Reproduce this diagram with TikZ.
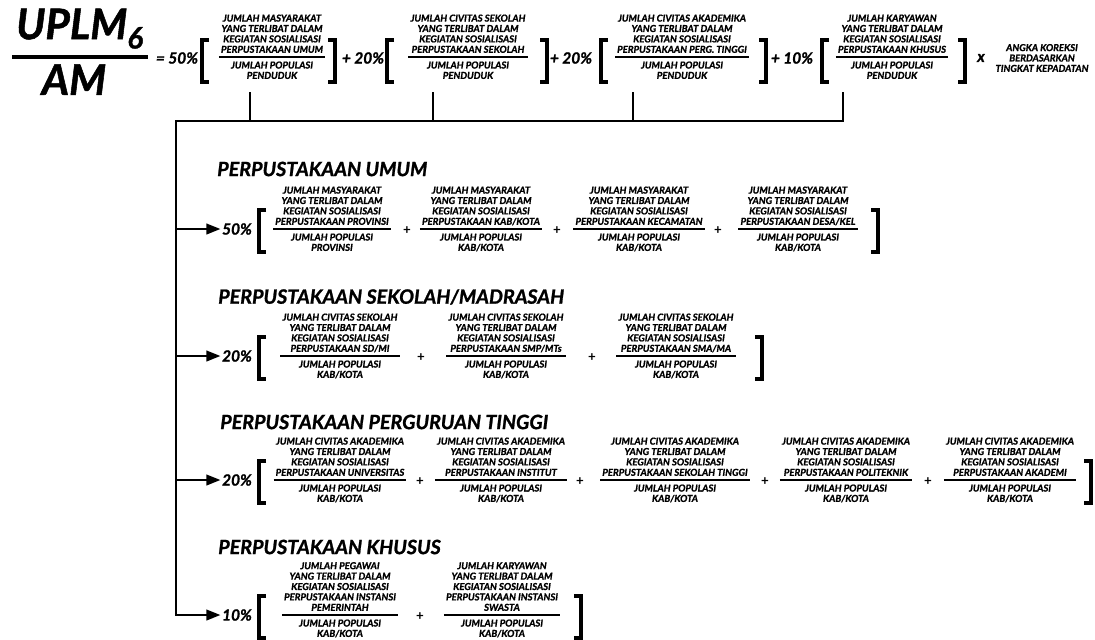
\documentclass[tikz,border=0pt]{standalone}
\usepackage{fontspec}
\setmainfont{Lato}[BoldItalicFeatures={FakeBold=1.2}]
\usetikzlibrary{arrows.meta,positioning}
\newcommand{\ikut}[2]{#1\\YANG TERLIBAT DALAM\\KEGIATAN SOSIALISASI\\#2}
\newcommand{\pop}[1]{JUMLAH POPULASI\\#1}
\newcommand{\pecahan}[5]{%
  \node[num] (#1) at (#2,#3) {#4};
  \node[den,below=0pt of #1] (#1d) {#5};
  \draw[bar] (#1.south west) -- (#1.south east);}
\newcommand{\kurungL}[3]{\draw[brk] (#1+7,#2) -- (#1,#2) -- (#1,#3) -- (#1+7,#3);}
\newcommand{\kurungR}[3]{\draw[brk] (#1-7,#2) -- (#1,#2) -- (#1,#3) -- (#1-7,#3);}
\tikzset{
  small/.style={font=\fontsize{6.8}{7.4}\selectfont\bfseries\itshape},
  num/.style={small,anchor=south,align=center,text depth=0.8pt,inner xsep=1.5pt,inner ysep=2.2pt,outer sep=0pt},
  den/.style={small,align=center,inner xsep=1.5pt,inner ysep=3.2pt,outer sep=0pt},
  bar/.style={line width=0.8pt},
  brk/.style={line width=2.2pt},
  pct/.style={font=\fontsize{11}{11}\selectfont\bfseries\itshape,inner sep=1pt},
  plus/.style={font=\fontsize{9.5}{9.5}\selectfont\bfseries,inner sep=0pt},
  head/.style={anchor=west,inner sep=0pt,font=\fontsize{14}{14}\selectfont\bfseries\itshape},
  big/.style={inner sep=0pt,font=\fontsize{30}{30}\selectfont\bfseries\itshape},
  link/.style={line width=1.6pt}
}
\begin{document}
\begin{tikzpicture}[x=0.025cm,y=0.025cm,>={Triangle[length=10pt,width=7.5pt]}]
\useasboundingbox (0,0) rectangle (1095,-639);
\node[big,anchor=south] (uplm) at (80,-49) {UPLM\textsubscript{6}};
\node[big,anchor=north] (am) at (74,-64) {AM};
\draw[line width=2.5pt] (12,-57) -- (148,-57);
\node[pct] (e0) at (177,-58) {= 50\%};
\node[pct] (e1) at (363,-58) {+ 20\%};
\node[pct] (e2) at (571,-58) {+ 20\%};
\node[pct] (e3) at (792,-58) {+ 10\%};
\node[pct] (ex) at (981,-58) {x};
\node[small,align=center] (koreksi) at (1042,-58) {ANGKA KOREKSI\\BERDASARKAN\\TINGKAT KEPADATAN};
\pecahan{f1}{272}{-57}{\ikut{JUMLAH MASYARAKAT}{PERPUSTAKAAN UMUM}}{\pop{PENDUDUK}}
\pecahan{f2}{468}{-57}{\ikut{JUMLAH CIVITAS SEKOLAH}{PERPUSTAKAAN SEKOLAH}}{\pop{PENDUDUK}}
\pecahan{f3}{682}{-57}{\ikut{JUMLAH CIVITAS AKADEMIKA}{PERPUSTAKAAN PERG. TINGGI}}{\pop{PENDUDUK}}
\pecahan{f4}{892}{-57}{\ikut{JUMLAH KARYAWAN}{PERPUSTAKAAN KHUSUS}}{\pop{PENDUDUK}}
\kurungL{202}{-40}{-82} \kurungR{335}{-40}{-82}
\kurungL{387}{-40}{-82} \kurungR{547}{-40}{-82}
\kurungL{601}{-40}{-82} \kurungR{766}{-40}{-82}
\kurungL{822}{-40}{-82} \kurungR{965}{-40}{-82}
\coordinate (bus) at (176,-121);
\coordinate (t1) at (250,-92);
\coordinate (t2) at (433,-92);
\coordinate (t3) at (633,-92);
\coordinate (t4) at (843,-92);

\node[head] (h1) at (217,-169) {PERPUSTAKAAN UMUM};
\node[pct] (p1) at (237,-229) {50\%};
\kurungL{259}{-210}{-252} \kurungR{878}{-210}{-252}
\pecahan{a1}{332}{-229}{\ikut{JUMLAH MASYARAKAT}{PERPUSTAKAAN PROVINSI}}{\pop{PROVINSI}}
\pecahan{a2}{481}{-229}{\ikut{JUMLAH MASYARAKAT}{PERPUSTAKAAN KAB/KOTA}}{\pop{KAB/KOTA}}
\pecahan{a3}{639}{-229}{\ikut{JUMLAH MASYARAKAT}{PERPUSTAKAAN KECAMATAN}}{\pop{KAB/KOTA}}
\pecahan{a4}{798}{-229}{\ikut{JUMLAH MASYARAKAT}{PERPUSTAKAAN DESA/KEL}}{\pop{KAB/KOTA}}
\foreach \x in {407,557,718}
    \node[plus] at (\x,-231) {+};

\node[head] (h2) at (218,-297) {PERPUSTAKAAN SEKOLAH/MADRASAH};
\node[pct] (p2) at (237,-356) {20\%};
\kurungL{259}{-337}{-379} \kurungR{762}{-337}{-379}
\pecahan{b1}{340}{-356}{\ikut{JUMLAH CIVITAS SEKOLAH}{PERPUSTAKAAN SD/MI}}{\pop{KAB/KOTA}}
\pecahan{b2}{506}{-356}{\ikut{JUMLAH CIVITAS SEKOLAH}{PERPUSTAKAAN SMP/MTs}}{\pop{KAB/KOTA}}
\pecahan{b3}{676}{-356}{\ikut{JUMLAH CIVITAS SEKOLAH}{PERPUSTAKAAN SMA/MA}}{\pop{KAB/KOTA}}
\foreach \x in {421,592}
    \node[plus] at (\x,-358) {+};

\node[head] (h3) at (220,-422) {PERPUSTAKAAN PERGURUAN TINGGI};
\node[pct] (p3) at (237,-480) {20\%};
\kurungL{259}{-461}{-503} \kurungR{1091}{-461}{-503}
\pecahan{c1}{340}{-480}{\ikut{JUMLAH CIVITAS AKADEMIKA}{PERPUSTAKAAN UNIVERSITAS}}{\pop{KAB/KOTA}}
\pecahan{c2}{501}{-480}{\ikut{JUMLAH CIVITAS AKADEMIKA}{PERPUSTAKAAN INSTITUT}}{\pop{KAB/KOTA}}
\pecahan{c3}{675}{-480}{\ikut{JUMLAH CIVITAS AKADEMIKA}{PERPUSTAKAAN SEKOLAH TINGGI}}{\pop{KAB/KOTA}}
\pecahan{c4}{846}{-480}{\ikut{JUMLAH CIVITAS AKADEMIKA}{PERPUSTAKAAN POLITEKNIK}}{\pop{KAB/KOTA}}
\pecahan{c5}{1010}{-480}{\ikut{JUMLAH CIVITAS AKADEMIKA}{PERPUSTAKAAN AKADEMI}}{\pop{KAB/KOTA}}
\foreach \x in {420,580,765,928}
    \node[plus] at (\x,-482) {+};

\node[head] (h4) at (218,-547) {PERPUSTAKAAN KHUSUS};
\node[pct] (p4) at (237,-615) {10\%};
\kurungL{259}{-596}{-638} \kurungR{581}{-596}{-638}
\pecahan{d1}{340}{-615}{\ikut{JUMLAH PEGAWAI}{PERPUSTAKAAN INSTANSI\\PEMERINTAH}}{\pop{KAB/KOTA}}
\pecahan{d2}{502}{-615}{\ikut{JUMLAH KARYAWAN}{PERPUSTAKAAN INSTANSI\\SWASTA}}{\pop{KAB/KOTA}}
\node[plus] at (420,-617) {+};

\foreach \i in {1,2,3}
    \draw[link] (t\i) -- (t\i |- bus);
\draw[link,->] (t4) |- (bus) |- (p4);
\foreach \i in {1,2,3}
    \draw[link,->] (bus |- p\i) -- (p\i);
\end{tikzpicture}
\end{document}
